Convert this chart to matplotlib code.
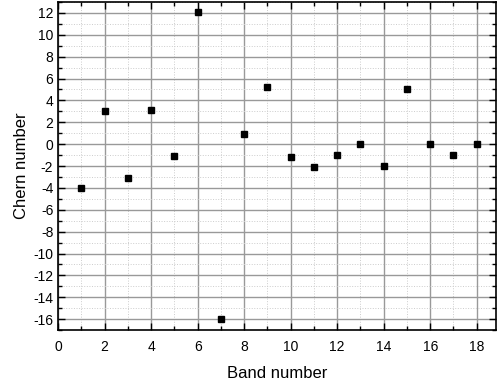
import matplotlib
matplotlib.use("Agg")
import matplotlib.pyplot as plt
from matplotlib.ticker import MultipleLocator

band = [1, 2, 3, 4, 5, 6, 7, 8, 9, 10, 11, 12, 13, 14, 15, 16, 17, 18]
chern = [-4, 3, -3.1, 3.1, -1.1, 12.1, -16, 0.9, 5.2, -1.15, -2.05, -0.97, 0, -1.97, 5.0, 0, -1, 0]
xticks = list(range(0, 19, 2))
yticks = list(range(-16, 13, 2))

plt.rcParams['font.family'] = ['Liberation Sans', 'DejaVu Sans']
plt.rcParams['axes.unicode_minus'] = False
fig = plt.figure(figsize=(4.97, 3.87), dpi=100)
ax = fig.add_axes([0.117, 0.147, 0.881, 0.848])

ax.plot(band, chern, 's', color='black', ms=5, zorder=3)
ax.set_xlim(0, 18.83)
ax.set_ylim(-17, 13)
ax.set_xticks(xticks)
ax.set_yticks(yticks)
ax.xaxis.set_minor_locator(MultipleLocator(1))
ax.yaxis.set_minor_locator(MultipleLocator(1))
ax.grid(which='major', color='#999999', linewidth=1.0, linestyle='-')
ax.grid(which='minor', color='#cccccc', linewidth=0.7, linestyle=':')
ax.set_axisbelow(True)
ax.tick_params(which='both', direction='in', top=True, right=True, labelsize=10, width=1.0, color='black')
ax.tick_params(which='major', length=5)
ax.tick_params(which='minor', length=3)
ax.tick_params(axis='x', pad=7)
for s in ax.spines.values():
    s.set_linewidth(1.2)
ax.set_xlabel('Band number', fontsize=12, labelpad=9)
ax.set_ylabel('Chern number', fontsize=12, labelpad=3)

fig.savefig('out.png', dpi=100)
